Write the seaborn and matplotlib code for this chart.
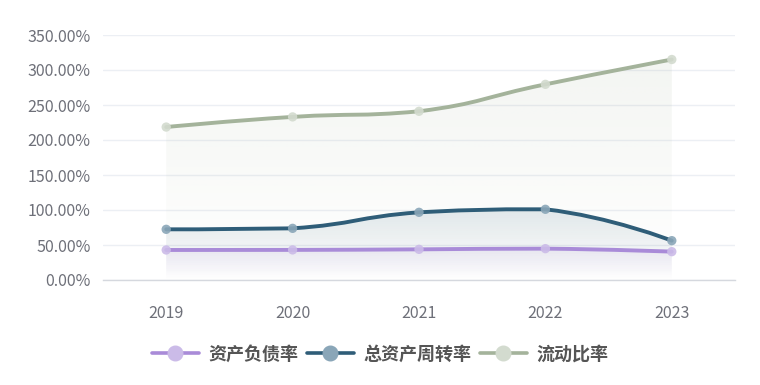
import numpy as np
import pandas as pd
import matplotlib
matplotlib.use("Agg")
import matplotlib.pyplot as plt
import seaborn as sns
from matplotlib.path import Path
from matplotlib.patches import PathPatch
from matplotlib.lines import Line2D
from matplotlib.colors import to_rgb

years = ["2019", "2020", "2021", "2022", "2023"]
debt_ratio = [42.9, 43.0, 43.8, 44.8, 40.5]          # 资产负债率
asset_turnover = [72.4, 73.8, 96.7, 101.0, 56.2]     # 总资产周转率
current_ratio = [218.5, 233.0, 241.0, 279.5, 315.0]  # 流动比率

names = ["资产负债率", "总资产周转率", "流动比率"]
colors = ["#a98bd8", "#2f5d78", "#a4b39b"]
marker_colors = ["#cbbbe8", "#8aa6b8", "#d3dbcf"]

sns.set_theme(style="white")
plt.rcParams["font.family"] = ["Noto Sans CJK SC", "DejaVu Sans"]

df = pd.DataFrame({"year": years * 3,
                   "value": debt_ratio + asset_turnover + current_ratio,
                   "series": sum([[n] * len(years) for n in names], [])})
df["x"] = df.groupby("series").cumcount()

fig = plt.figure(figsize=(7.6, 3.85), dpi=100)
ax = fig.add_axes([103 / 760, 105 / 385, 632 / 760, 245 / 385])

# scale factors to do the smoothing in pixel space like echarts
SX, SY = 126.5, 0.7


def smooth_path(xs, ys, smooth=0.5):
    px = np.array(xs, float) * SX
    py = np.array(ys, float) * SY
    n = len(px)
    cps = []
    for i in range(n):
        if i == 0 or i == n - 1:
            cps.append(((px[i], py[i]), (px[i], py[i])))
            continue
        vx, vy = px[i + 1] - px[i - 1], py[i + 1] - py[i - 1]
        l0 = np.hypot(px[i] - px[i - 1], py[i] - py[i - 1])
        l1 = np.hypot(px[i + 1] - px[i], py[i + 1] - py[i])
        r = l1 / (l0 + l1)
        nxt = (px[i] + vx * smooth * r, py[i] + vy * smooth * r)
        prv = (px[i] - vx * smooth * (1 - r), py[i] - vy * smooth * (1 - r))
        nxt = (nxt[0], min(max(nxt[1], min(py[i], py[i + 1])), max(py[i], py[i + 1])))
        prv = (prv[0], min(max(prv[1], min(py[i], py[i - 1])), max(py[i], py[i - 1])))
        cps.append((prv, nxt))
    verts = [(px[0], py[0])]
    codes = [Path.MOVETO]
    for i in range(n - 1):
        verts += [cps[i][1], cps[i + 1][0], (px[i + 1], py[i + 1])]
        codes += [Path.CURVE4] * 3
    verts = [(a / SX, b / SY) for a, b in verts]
    return verts, codes


for name, color in zip(names, colors):
    sub = df[df["series"] == name]
    verts, codes = smooth_path(sub["x"], sub["value"])
    # gradient area under the curve
    area_verts = verts + [(sub["x"].iloc[-1], 0), (sub["x"].iloc[0], 0), verts[0]]
    area_codes = codes + [Path.LINETO, Path.LINETO, Path.CLOSEPOLY]
    top = sub["value"].max()
    rgb = to_rgb(color)
    grad = np.zeros((100, 1, 4))
    grad[..., :3] = rgb
    grad[:, 0, 3] = np.linspace(0.13, 0.0, 100)
    im = ax.imshow(grad, extent=[sub["x"].iloc[0], sub["x"].iloc[-1], 0, top],
                   aspect="auto", origin="upper", zorder=1, interpolation="bilinear")
    clip = PathPatch(Path(area_verts, area_codes), facecolor="none", edgecolor="none")
    ax.add_patch(clip)
    im.set_clip_path(clip)
    ax.add_patch(PathPatch(Path(verts, codes), facecolor="none", edgecolor=color,
                           lw=2.8, zorder=3, capstyle="round"))

sns.scatterplot(data=df, x="x", y="value", hue="series", hue_order=names,
                palette=marker_colors, s=45, edgecolor="none", alpha=0.9,
                legend=False, zorder=4, ax=ax)

ax.set_xlim(-0.5, 4.5)
ax.set_ylim(0, 350)
ax.set_xticks(range(len(years)))
ax.set_xticklabels(years)
ax.set_yticks(np.arange(0, 351, 50))
ax.set_yticklabels([f"{v:.2f}%" for v in np.arange(0, 351, 50)])
ax.tick_params(axis="both", colors="#6e7079", labelsize=11.5, length=0, pad=9)
ax.tick_params(axis="x", pad=18)
ax.yaxis.grid(True, color="#eceff4", lw=1)
ax.set_xlabel("")
ax.set_ylabel("")
for s in ["top", "right", "left"]:
    ax.spines[s].set_visible(False)
ax.spines["bottom"].set_color("#d5d8de")
ax.spines["bottom"].set_linewidth(1)

handles = [Line2D([0], [0], color=c, lw=2.6, marker="o", markersize=10.5,
                  markerfacecolor=mc, markeredgecolor=mc)
           for c, mc in zip(colors, marker_colors)]
fig.legend(handles, names, loc="center", bbox_to_anchor=(0.5, 1 - 354 / 385),
           ncol=3, frameon=False, handlelength=2.6, columnspacing=0.5, handletextpad=0.5,
           prop={"family": ["Noto Sans CJK SC", "DejaVu Sans"], "weight": "bold", "size": 13},
           labelcolor="#555555")

fig.savefig("out.png", dpi=100)
